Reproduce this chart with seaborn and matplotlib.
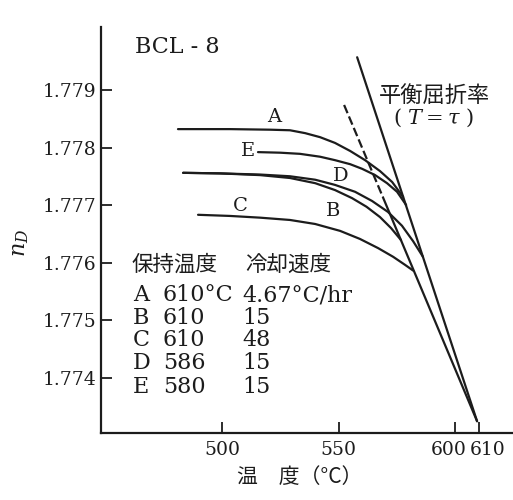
import matplotlib
matplotlib.use("Agg")
import matplotlib.pyplot as plt
import matplotlib.transforms as mtransforms
import pandas as pd
import seaborn as sns

# Cooling curves of glass BCL-8: temperature (°C) vs refractive index n_D
a_temp = [481.1, 503.4, 520.6, 529.1, 535.6, 542.0, 548.4, 554.9, 561.3, 567.7, 572.9, 577.6]
a_nd = [1.77832, 1.77832, 1.77831, 1.77830, 1.77825, 1.77818, 1.77808, 1.77794,
        1.77778, 1.77759, 1.77740, 1.77714]

b_temp = [483.3, 499.1, 516.3, 529.1, 539.9, 548.4, 555.7, 561.9, 567.7, 572.4, 576.7]
b_nd = [1.77756, 1.77755, 1.77752, 1.77747, 1.77738, 1.77726, 1.77712, 1.77697,
        1.77679, 1.77660, 1.77639]

c_temp = [489.7, 503.4, 516.3, 529.1, 539.9, 550.6, 559.1, 566.9, 573.3, 578.4, 581.9]
c_nd = [1.77683, 1.77681, 1.77678, 1.77674, 1.77667, 1.77655, 1.77641, 1.77625,
        1.77610, 1.77596, 1.77586]

d_temp = [483.3, 499.1, 516.3, 529.1, 539.9, 548.4, 557.0, 564.3, 571.1, 577.1, 581.9, 586.1]
d_nd = [1.77756, 1.77755, 1.77753, 1.77750, 1.77744, 1.77735, 1.77723, 1.77707,
        1.77688, 1.77664, 1.77637, 1.77610]

e_temp = [515.4, 524.9, 533.4, 542.0, 548.4, 554.9, 560.0, 565.6, 570.7, 575.0, 578.9]
e_nd = [1.77792, 1.77791, 1.77789, 1.77784, 1.77778, 1.77771, 1.77763, 1.77752,
        1.77738, 1.77723, 1.77700]

# equilibrium refractive index (T = tau)
eq_temp = [557.9, 609.3]
eq_nd = [1.77957, 1.77324]

# common fast-cooling branch; dashed beyond the first segment
fast_temp = [552.3, 569.0, 609.3]
fast_nd = [1.77874, 1.77713, 1.77324]

x_ticks = [500, 550, 600, 610]
y_ticks = [1.774, 1.775, 1.776, 1.777, 1.778, 1.779]

legend_ids = ["A", "B", "C", "D", "E"]
hold_temps = ["610°C", "610", "610", "586", "580"]
cool_rates = ["4.67°C/hr", "15", "48", "15", "15"]

sns.set_theme(style="ticks")
plt.rcParams["font.family"] = ["DejaVu Serif", "Noto Sans CJK JP"]
plt.rcParams["mathtext.fontset"] = "dejavuserif"

W, H = 513, 500
fig = plt.figure(figsize=(W / 100, H / 100), dpi=100)
ax = fig.add_axes([101 / W, 1 - 433 / H, 1 - 101 / W, (433 - 27) / H])
ink = "#1c1c1c"
cjk = ["Noto Sans CJK JP", "DejaVu Serif"]


def fpos(x, y):
    return x / W, 1 - y / H


frames = []
for name, t, n in [("A", a_temp, a_nd), ("B", b_temp, b_nd), ("C", c_temp, c_nd),
                   ("D", d_temp, d_nd), ("E", e_temp, e_nd)]:
    frames.append(pd.DataFrame({"T": t, "nD": n, "curve": name}))
curves = pd.concat(frames, ignore_index=True)

sns.lineplot(data=curves, x="T", y="nD", units="curve", estimator=None, sort=False,
             color=ink, lw=1.6, ax=ax)
sns.lineplot(x=eq_temp, y=eq_nd, sort=False, color=ink, lw=1.6, ax=ax)
sns.lineplot(x=fast_temp[:2], y=fast_nd[:2], sort=False, color=ink, lw=1.6,
             ls=(0, (4, 1.6)), ax=ax)
sns.lineplot(x=fast_temp[1:], y=fast_nd[1:], sort=False, color=ink, lw=1.6, ax=ax)
for line in ax.get_lines():
    line.set_solid_joinstyle("round")
    line.set_solid_capstyle("round")

ax.set_xlim(448.1, 624.7)
ax.set_ylim(1.773035, 1.780096)
sns.despine(ax=ax)
for side in ("left", "bottom"):
    ax.spines[side].set_linewidth(1.6)
    ax.spines[side].set_color(ink)
ax.set_xlabel("")
ax.set_ylabel("")

ax.set_xticks(x_ticks)
ax.set_xticklabels([str(v) for v in x_ticks])
ax.set_yticks(y_ticks)
ax.set_yticklabels([f"{v:.3f}" for v in y_ticks])
ax.tick_params(axis="both", direction="in", length=8, width=1.3, colors=ink,
               labelsize=13.5, labelcolor=ink)
ax.tick_params(axis="y", pad=3)
ax.tick_params(axis="x", pad=6)

# spread the crowded 600 / 610 labels apart
shifts = {"600": -7, "610": 9}
for lab in ax.get_xticklabels():
    dx = shifts.get(lab.get_text(), 0)
    if dx:
        lab.set_transform(lab.get_transform() +
                          mtransforms.ScaledTranslation(dx / 100, 0, fig.dpi_scale_trans))

# curve letters
for txt, (x, y) in zip(["A", "E", "D", "B", "C"],
                       [(274, 117), (248, 151), (341, 176), (333, 211), (240, 206)]):
    fig.text(*fpos(x, y), txt, fontsize=14, color=ink, ha="center", va="center")

fig.text(*fpos(135, 47), "BCL - 8", fontsize=16, color=ink, ha="left", va="center")
fig.text(*fpos(435, 95), "平衡屈折率", fontsize=16, color=ink, ha="center",
         va="center", family=cjk)
fig.text(*fpos(433, 118), r"( $T=\tau$ )", fontsize=15, color=ink, ha="center",
         va="center")

# condition table
fig.text(*fpos(131, 265), "保持温度", fontsize=15.5, color=ink, ha="left",
         va="center", family=cjk)
fig.text(*fpos(245, 265), "冷却速度", fontsize=15.5, color=ink, ha="left",
         va="center", family=cjk)
for ident, ht, cr, y in zip(legend_ids, hold_temps, cool_rates, [295, 318, 340, 363, 387]):
    fig.text(*fpos(133, y), ident, fontsize=16, color=ink, ha="left", va="center")
    fig.text(*fpos(163, y), ht, fontsize=16, color=ink, ha="left", va="center")
    fig.text(*fpos(242, y), cr, fontsize=16, color=ink, ha="left", va="center")

fig.text(*fpos(20, 243), r"$n_D$", fontsize=16, color=ink, rotation=90,
         ha="center", va="center")
fig.text(*fpos(300, 477), "温　度（°C）", fontsize=15, color=ink, ha="center",
         va="center", family=cjk)

fig.savefig("out.png", dpi=100, facecolor="white")
